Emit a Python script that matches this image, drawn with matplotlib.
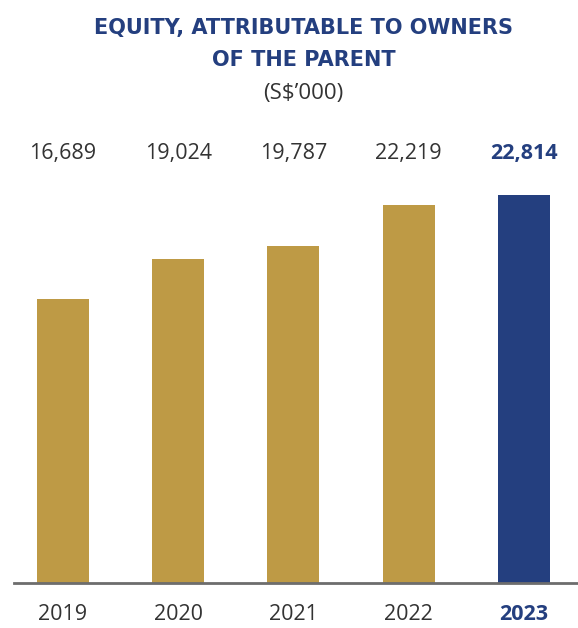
import matplotlib.pyplot as plt
from matplotlib.transforms import blended_transform_factory

# data
years = ["2019", "2020", "2021", "2022", "2023"]
equity = [16689, 19024, 19787, 22219, 22814]

gold = "#BE9A45"
navy = "#243F7F"
colors = [gold, gold, gold, gold, navy]

plt.rcParams["font.family"] = ["Open Sans", "DejaVu Sans"]

fig = plt.figure(figsize=(5.78, 6.28), dpi=100)
ax = fig.add_axes([14 / 578, 1 - 583 / 628, 1 - 14 / 578, 433 / 628])

x = list(range(len(years)))
ax.bar(x, equity, width=0.45, color=colors)
ax.set_xlim(-0.425, 4.47)
ax.set_ylim(0, 25460)

for s in ["top", "right", "left"]:
    ax.spines[s].set_visible(False)
ax.spines["bottom"].set_color("#6d6d6d")
ax.spines["bottom"].set_linewidth(2)
ax.set_yticks([])
ax.set_xticks([])

# value row and year row in fixed positions
tr = blended_transform_factory(ax.transData, fig.transFigure)
for i, (yr, v) in enumerate(zip(years, equity)):
    last = i == len(years) - 1
    ax.text(i, 1 - 153 / 628, f"{v:,}", transform=tr, ha="center", va="center",
            fontsize=15.5, color=navy if last else "#333333",
            fontweight="bold" if last else "normal")
    ax.text(i, 1 - 615 / 628, yr, transform=tr, ha="center", va="center",
            fontsize=15.5, color=navy if last else "#333333",
            fontweight="bold" if last else "normal")

title_font = ["DejaVu Sans"]
fig.text(304 / 578, 1 - 28 / 628, "EQUITY, ATTRIBUTABLE TO OWNERS", ha="center", va="center",
         fontsize=15, fontweight="bold", color=navy, family=title_font)
fig.text(304 / 578, 1 - 60 / 628, "OF THE PARENT", ha="center", va="center",
         fontsize=15, fontweight="bold", color=navy, family=title_font)
fig.text(303 / 578, 1 - 93 / 628, "(S$’000)", ha="center", va="center",
         fontsize=16, color="#333333")

fig.savefig("out.png", dpi=100)
